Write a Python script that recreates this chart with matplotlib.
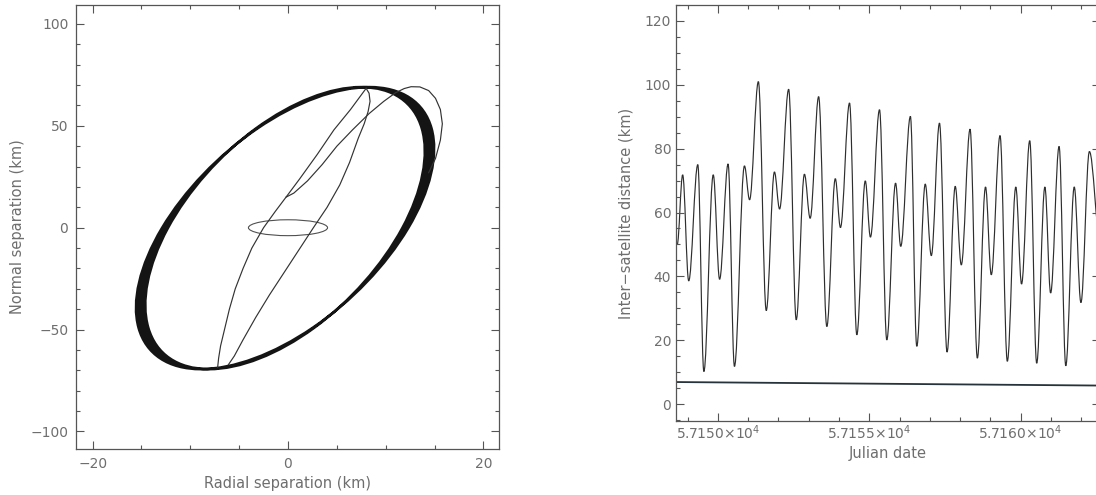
import numpy as np
import matplotlib
matplotlib.use("Agg")
import matplotlib.pyplot as plt
from matplotlib.path import Path
from matplotlib.patches import PathPatch, Ellipse
import matplotlib.transforms as mtransforms
from matplotlib.ticker import MultipleLocator, FixedLocator, FuncFormatter

# ---------------- data: left panel (relative orbit, km) ----------------
# thick band of drifting relative ellipses: x = cx + P cos s + Q sin s, y = cy + B cos s
band_center = (-0.3, -0.2)
band_B = 69.2
band_P = [7.8, 8.6]     # inner / outer
band_Q = [12.0, 12.6]

# small initial ellipse
small_center = (0.0, 0.0)
small_width = 8.1
small_height = 7.8

# thin trajectory strands
l1_x = [8.0, 6.4, 4.7, 3.0, 1.2, -0.2, -1.3, -2.5, -3.7, -4.6, -5.4, -6.0, -6.5, -6.9, -7.1, -7.2]
l1_y = [68.4, 58, 48, 36, 24, 15, 8, 0, -10, -20, -30, -40, -50, -58, -64, -68.5]

l2_x = [8.0, 8.3, 8.4, 8.2, 7.8, 7.2, 6.3, 5.3, 4.0, 2.6, 1.1, -0.4, -1.9, -3.3, -4.6, -5.5, -6.1]
l2_y = [68.4, 66, 62, 57, 51, 44, 32, 21, 10, 0, -11, -22, -33, -44, -55, -63, -67.2]

loop_x = [14.4, 15.1, 15.6, 15.8, 15.6, 15.1, 14.4, 13.5, 12.6, 11.9, 11.0, 9.8, 8.3, 6.6, 5.0, 3.5, 2.0, 0.6, -0.2]
loop_y = [27, 34, 43, 51, 58, 63.5, 67.3, 69.1, 69.2, 68.3, 66.2, 62, 56, 48, 40, 31, 23, 17, 15]

jd = [57148.66, 57148.84, 57149.04, 57149.34, 57149.54, 57149.85, 57150.06, 57150.34, 57150.55,
      57150.88, 57151.05, 57151.34, 57151.60, 57151.87, 57152.04, 57152.34, 57152.59, 57152.86,
      57153.05, 57153.33, 57153.60, 57153.88, 57154.05, 57154.35, 57154.59, 57154.87, 57155.04,
      57155.34, 57155.58, 57155.87, 57156.04, 57156.36, 57156.57, 57156.85, 57157.05, 57157.32,
      57157.57, 57157.84, 57158.04, 57158.33, 57158.57, 57158.84, 57159.03, 57159.32, 57159.56,
      57159.84, 57160.03, 57160.30, 57160.53, 57160.80, 57160.99, 57161.27, 57161.49, 57161.77,
      57161.99, 57162.27, 57162.62]
dist = [50.0, 71.8, 38.6, 75.0, 10.2, 71.8, 39.1, 75.2, 11.8,
        74.6, 64.0, 101.0, 29.3, 72.7, 61.1, 98.6, 26.4, 72.0,
        58.2, 96.3, 24.3, 70.6, 55.3, 94.3, 21.7, 69.9, 52.3,
        92.2, 20.1, 69.2, 49.4, 90.1, 18.1, 68.9, 46.5, 88.0,
        16.3, 68.2, 43.6, 86.1, 14.4, 68.0, 40.5, 84.1, 13.4,
        68.0, 37.6, 82.5, 12.8, 68.0, 34.8, 80.7, 12.0, 68.0,
        31.8, 79.1, 52.0]
thresh_jd = [57148.66, 57162.62]
thresh_val = [6.9, 5.8]

x_major_jd = [57150, 57155, 57160]

# ---------------- style ----------------
TXT = "#6e6e6e"
AX = "#555555"
LINE = "#2e2e2e"
plt.rcParams["font.family"] = ["DejaVu Sans"]
plt.rcParams["font.size"] = 10

fig = plt.figure(figsize=(10.96, 4.95), dpi=100)
W, H = 1096.0, 495.0
axL = fig.add_axes([76 / W, 1 - 449 / H, (499 - 76) / W, (449 - 5) / H])
axR = fig.add_axes([676 / W, 1 - 421 / H, (1100 - 676) / W, (421 - 5) / H])

for ax in (axL, axR):
    for sp in ax.spines.values():
        sp.set_color(AX)
        sp.set_linewidth(0.9)
    ax.tick_params(which="both", direction="in", top=True, right=True,
                   color=AX, labelcolor=TXT, labelsize=10, width=0.8)
    ax.tick_params(which="major", length=6)
    ax.tick_params(which="minor", length=3)

# ---- left panel ----
circle = Path.unit_circle()
cx, cy = band_center
inner = mtransforms.Affine2D(np.array([[band_P[0], band_Q[0], cx],
                                       [band_B, 0.0, cy],
                                       [0, 0, 1.0]])).transform_path(circle)
outer = mtransforms.Affine2D(np.array([[band_P[1], -band_Q[1], cx],
                                       [band_B, 0.0, cy],
                                       [0, 0, 1.0]])).transform_path(circle)
band_path = Path.make_compound_path(inner, outer)
axL.add_patch(PathPatch(band_path, transform=axL.transData, facecolor="#141414",
                        edgecolor="#141414", lw=1.9, zorder=3))

axL.add_patch(Ellipse(small_center, small_width, small_height, fill=False,
                      edgecolor="#505050", lw=0.8, zorder=4))
for xs, ys in ((l1_x, l1_y), (l2_x, l2_y), (loop_x, loop_y)):
    axL.plot(xs, ys, color="#333333", lw=0.85, zorder=4)

axL.set_xlim(-21.7, 21.6)
axL.set_ylim(-108.6, 109.3)
axL.xaxis.set_major_locator(MultipleLocator(20))
axL.xaxis.set_minor_locator(MultipleLocator(5))
axL.yaxis.set_major_locator(MultipleLocator(50))
axL.yaxis.set_minor_locator(MultipleLocator(10))
axL.tick_params(axis="x", which="both", pad=5.5)
axL.tick_params(axis="y", which="both", pad=5.5)
axL.set_xlabel("Radial separation (km)", color=TXT, fontsize=10.5, labelpad=4)
axL.set_ylabel("Normal separation (km)", color=TXT, fontsize=10.5, labelpad=4)

# ---- right panel: smooth curve through the read extrema (horizontal tangents at extrema) ----
k = 0.363
verts = [(jd[0], dist[0])]
codes = [Path.MOVETO]
for i in range(1, len(jd)):
    x0, y0, x1, y1 = jd[i - 1], dist[i - 1], jd[i], dist[i]
    dx = x1 - x0
    verts += [(x0 + k * dx, y0), (x1 - k * dx, y1), (x1, y1)]
    codes += [Path.CURVE4] * 3
axR.add_patch(PathPatch(Path(verts, codes), transform=axR.transData, fill=False,
                        edgecolor=LINE, lw=0.85))
axR.plot(thresh_jd, thresh_val, color="#26333a", lw=1.3)
axR.set_xlim(57148.62, 57162.62)
axR.set_ylim(-5.3, 125.0)
axR.xaxis.set_major_locator(FixedLocator(x_major_jd))
axR.xaxis.set_minor_locator(MultipleLocator(1))
axR.yaxis.set_major_locator(MultipleLocator(20))
axR.yaxis.set_minor_locator(MultipleLocator(5))
axR.xaxis.set_major_formatter(FuncFormatter(lambda v, p: "%.4f\u00d710$^{4}$" % (v / 1e4)))
axR.tick_params(axis="x", which="both", pad=1.5)
axR.tick_params(axis="y", which="both", pad=3.5)
axR.set_xlabel("Julian date", color=TXT, fontsize=10.5, labelpad=3)
axR.set_ylabel("Inter\u2212satellite distance (km)", color=TXT, fontsize=10.5, labelpad=8)

fig.savefig("out.png", dpi=100)
